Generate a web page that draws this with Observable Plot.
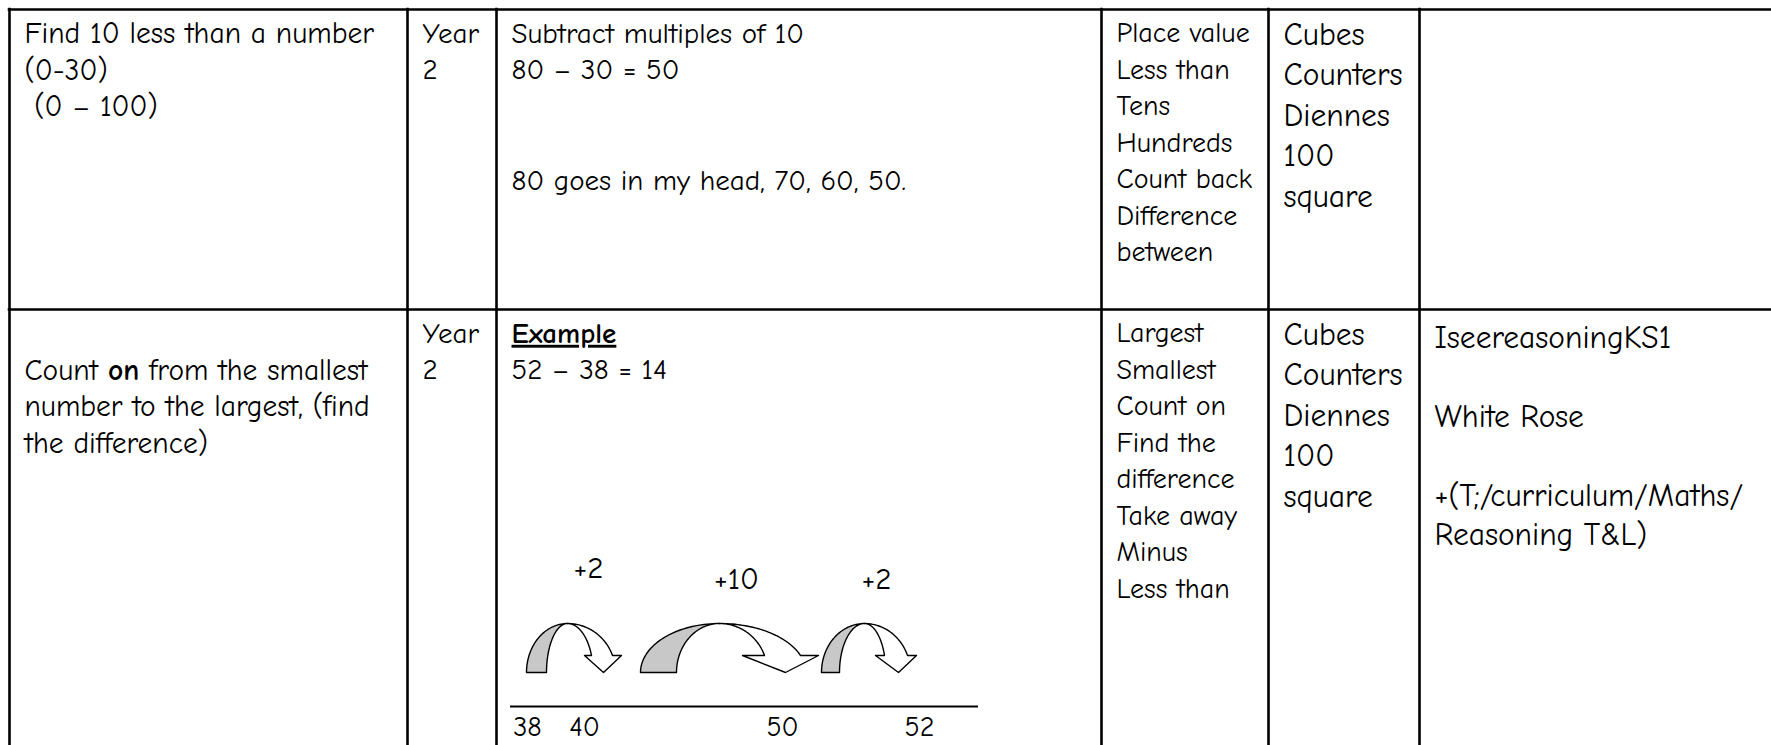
<!DOCTYPE html>
<html><head><meta charset="utf-8">
<script src="https://cdn.jsdelivr.net/npm/d3@7"></script>
<script src="https://cdn.jsdelivr.net/npm/@observablehq/plot@0.6"></script>
<style>
html,body{margin:0;padding:0;background:#fff;}
svg text{white-space:pre;}
</style>
</head><body><div id="chart"></div>
<script>
// ---------- data (table content) ----------
const objectives = [
  ["Find 10 less than a number", "(0-30)", " (0 – 100)"],
  ["", "Count on from the smallest", "number to the largest, (find", "the difference)"]
];
const yearGroups = [["Year", "2"], ["Year", "2"]];
const methods = [
  ["Subtract multiples of 10", "80 – 30 = 50", "", "", "80 goes in my head, 70, 60, 50."],
  ["Example", "52 – 38 = 14"]
];
const vocabulary = [
  ["Place value", "Less than", "Tens", "Hundreds", "Count back", "Difference", "between"],
  ["Largest", "Smallest", "Count on", "Find the", "difference", "Take away", "Minus", "Less than"]
];
const resources = [
  ["Cubes", "Counters", "Diennes", "100", "square"],
  ["Cubes", "Counters", "Diennes", "100", "square"]
];
const links = [
  [],
  ["IseereasoningKS1", "", "White Rose", "", "+(T;/curriculum/Maths/", "Reasoning T&L)"]
];
// empty number line example: 38 -> 40 -> 50 -> 52
const numberLineTicks = [38, 40, 50, 52];
const jumpLabels = ["+2", "+10", "+2"];

// ---------- layout (positions / sizes / styles) ----------
const W = 1771, H = 745;
const FONT = "'Comic Sans MS','Comic Neue','Open Sans','Noto Sans',sans-serif";
const colEdges = [9, 407, 496, 1101, 1268, 1419];
const rowEdges = [9, 309];
const inset = 15;
const columns = [
  {data: objectives, size: 29.5, lh: 36.7, off: 24},
  {data: yearGroups, size: 29, lh: 36.7, off: 24},
  {data: methods,    size: 29, lh: 36.7, off: 24},
  {data: vocabulary, size: 28, lh: 36.5, off: 24},
  {data: resources,  size: 31.5, lh: 40.5, off: 25},
  {data: links,      size: 31.5, lh: 39.5, off: 28}
];
const numberLine = {x1: 510, x2: 978, y: 706, labelY: 727};
const tickPos = d3.scaleLinear(numberLineTicks, [527, 584, 782, 919]);
const arrowBase = 672, arrowTop = 623, shaftY = 655;
const arrowShapes = [
  {x0: 526, grayW: 20, peak: 567, shaftIn: 591, shaftOut: 612, wingL: 584, wingR: 621, tip: 603, labelX: 588, labelY: 568},
  {x0: 640, grayW: 36, peak: 719, shaftIn: 764, shaftOut: 800, wingL: 742, wingR: 818, tip: 785, labelX: 736, labelY: 579},
  {x0: 821, grayW: 18, peak: 864, shaftIn: 884, shaftOut: 907, wingL: 875, wingR: 916, tip: 898, labelX: 876, labelY: 579}
];

// ---------- build text records ----------
const texts = [];
columns.forEach((col, c) => {
  col.data.forEach((lines, r) => {
    lines.forEach((t, i) => {
      if (!t) return;
      texts.push({x: colEdges[c] + inset, y: rowEdges[r] + col.off + i * col.lh, text: t, size: col.size});
    });
  });
});

// ---------- arrow polygons ----------
const grayPts = [], whitePts = [];
const ry = arrowBase - arrowTop;
const thE = Math.asin((arrowBase - shaftY) / ry);
const N = 40;
arrowShapes.forEach((a, k) => {
  const rO = a.peak - a.x0, rI = a.peak - a.x0 - a.grayW;
  for (let i = 0; i <= N; i++) { const th = Math.PI - (Math.PI / 2) * i / N; grayPts.push({k, x: a.peak + rO * Math.cos(th), y: arrowBase - ry * Math.sin(th)}); }
  for (let i = 0; i <= N; i++) { const th = Math.PI / 2 + (Math.PI / 2) * i / N; grayPts.push({k, x: a.peak + rI * Math.cos(th), y: arrowBase - ry * Math.sin(th)}); }
  const rxO = (a.shaftOut - a.peak) / Math.cos(thE), rxI = (a.shaftIn - a.peak) / Math.cos(thE);
  for (let i = 0; i <= N; i++) { const th = Math.PI / 2 - (Math.PI / 2 - thE) * i / N; whitePts.push({k, x: a.peak + rxO * Math.cos(th), y: arrowBase - ry * Math.sin(th)}); }
  whitePts.push({k, x: a.wingR, y: shaftY}, {k, x: a.tip, y: arrowBase}, {k, x: a.wingL, y: shaftY});
  for (let i = 0; i <= N; i++) { const th = thE + (Math.PI / 2 - thE) * i / N; whitePts.push({k, x: a.peak + rxI * Math.cos(th), y: arrowBase - ry * Math.sin(th)}); }
});
const jumpRecs = jumpLabels.map((label, i) => ({label, x: arrowShapes[i].labelX, y: arrowShapes[i].labelY}));
const tickRecs = numberLineTicks.map(v => ({v, x: tickPos(v), y: numberLine.labelY}));

const chart = Plot.plot({
  width: W, height: H, margin: 0,
  x: {domain: [0, W], range: [0, W], axis: null},
  y: {domain: [0, H], range: [0, H], axis: null},
  style: {fontFamily: FONT, background: "#fff", color: "#000"},
  marks: [
    Plot.ruleX(colEdges, {x: d => d, y1: rowEdges[0] - 1.3, y2: H, stroke: "#000", strokeWidth: 2.6}),
    Plot.ruleY(rowEdges, {y: d => d, x1: colEdges[0] - 1.3, x2: W, stroke: "#000", strokeWidth: 2.6}),
    Plot.text(texts, {x: "x", y: "y", text: "text", fontSize: "size", textAnchor: "start", lineAnchor: "middle", fill: "#000"}),
    Plot.ruleY([numberLine.y], {y: d => d, x1: numberLine.x1, x2: numberLine.x2, stroke: "#000", strokeWidth: 1.8}),
    Plot.text(tickRecs, {x: "x", y: "y", text: d => String(d.v), fontSize: 28, textAnchor: "middle", lineAnchor: "middle", fill: "#000"}),
    Plot.line(grayPts, {x: "x", y: "y", z: "k", fill: "#c8c8c8", stroke: "#000", strokeWidth: 1.4, curve: "linear-closed"}),
    Plot.line(whitePts, {x: "x", y: "y", z: "k", fill: "#fff", stroke: "#000", strokeWidth: 1.4, curve: "linear-closed"}),
    Plot.text(jumpRecs, {x: "x", y: "y", text: "label", fontSize: 31, textAnchor: "middle", lineAnchor: "middle", fill: "#000"})
  ]
});
document.getElementById("chart").appendChild(chart);

// rich text styling: bold "on", bold underlined "Example"
d3.select(chart).selectAll("text").each(function() {
  const s = d3.select(this);
  const t = this.textContent;
  if (t === "Count on from the smallest") {
    s.text(null);
    s.append("tspan").text("Count ");
    s.append("tspan").attr("font-weight", "bold").text("on");
    s.append("tspan").text(" from the smallest");
  } else if (t === "Example") {
    s.attr("font-weight", "bold").style("text-decoration", "underline");
  }
});
</script>
</body></html>
